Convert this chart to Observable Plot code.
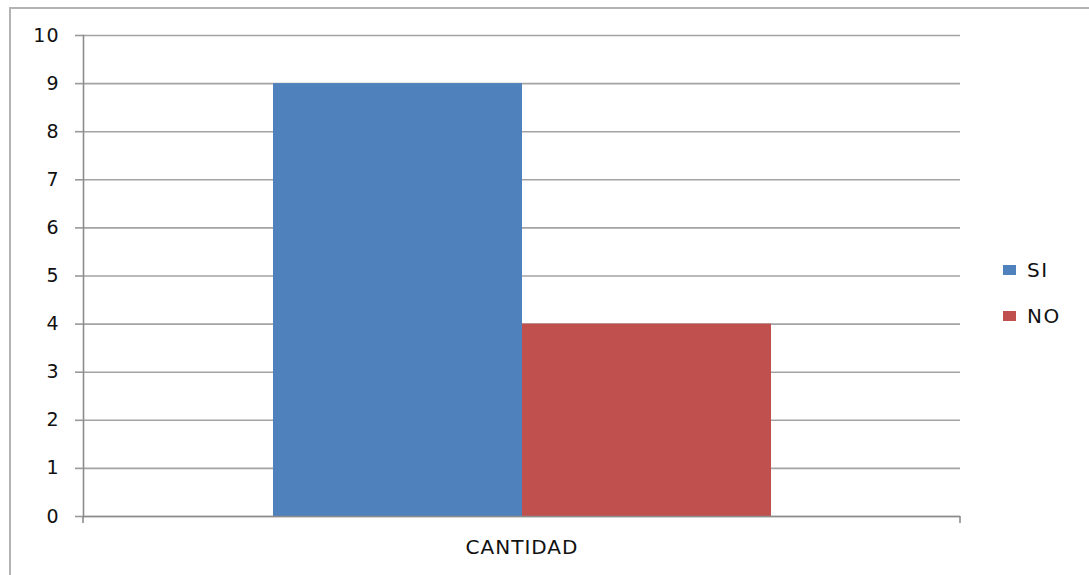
<!DOCTYPE html>
<html>
<head>
<meta charset="utf-8">
<script src="https://cdn.jsdelivr.net/npm/d3@7"></script>
<script src="https://cdn.jsdelivr.net/npm/@observablehq/plot@0.6"></script>
<style>
  html, body { margin: 0; padding: 0; background: #fff; }
  #wrap { position: relative; width: 1089px; height: 575px; overflow: hidden; font-family: "DejaVu Sans", Verdana, sans-serif; }
  #border { position: absolute; left: 9px; top: 7px; width: 1200px; height: 700px; border-top: 2px solid #b3b3b3; border-left: 2px solid #b3b3b3; box-sizing: border-box; }
  #legend { position: absolute; left: 1003px; top: 257px; font-size: 20px; color: #111; }
  .li { display: flex; align-items: center; height: 26px; margin-bottom: 20px; letter-spacing: 1.5px; }
  .sw { width: 13px; height: 10px; margin-right: 11px; }
  svg { position: absolute; left: 0; top: 0; }
</style>
</head>
<body>
<div id="wrap">
  <div id="border"></div>
  <div id="legend"></div>
</div>
<script>
const categories = ["CANTIDAD"];
const series = ["SI", "NO"];
const values = [9, 4];
const colors = ["#4F81BD", "#C0504D"];
const yTicks = [0, 1, 2, 3, 4, 5, 6, 7, 8, 9, 10];

const data = series.map((s, i) => ({category: categories[0], series: s, value: values[i]}));

const W = 1089, H = 575, mL = 83, mR = 129, mT = 35, mB = 59;

const plot = Plot.plot({
  width: W, height: H,
  marginLeft: mL, marginRight: mR, marginTop: mT, marginBottom: mB,
  style: {fontFamily: "DejaVu Sans, Verdana, sans-serif", fontSize: "19px", color: "#111", background: "transparent", letterSpacing: "1px"},
  fx: {domain: categories, padding: 0, label: null},
  x: {domain: series, paddingInner: 0, paddingOuter: 0.76, axis: null},
  y: {domain: [0, 10], label: null},
  color: {domain: series, range: colors},
  marks: [
    Plot.gridY(yTicks, {stroke: "#a3a3a3", strokeOpacity: 1, strokeWidth: 1.6}),
    Plot.barY(data, {fx: "category", x: "series", y: "value", fill: "series"}),
    Plot.ruleY([0], {stroke: "#8c8c8c", strokeWidth: 1.6}),
    Plot.frame({anchor: "left", stroke: "#8c8c8c", strokeWidth: 1.6}),
    Plot.axisY(yTicks, {tickSize: 8, tickPadding: 16, stroke: "#999", strokeWidth: 1.6, label: null, fontSize: 19}),
    Plot.axisFx({anchor: "bottom", tickSize: 0, tickPadding: 23, label: null, fontSize: 20})
  ]
});

document.getElementById("wrap").appendChild(plot);

// end ticks of the category axis
const svg = d3.select(plot);
const y0 = H - mB;
[mL, W - mR].forEach(xp => {
  svg.append("line").attr("x1", xp).attr("x2", xp).attr("y1", y0).attr("y2", y0 + 7)
    .attr("stroke", "#8c8c8c").attr("stroke-width", 1.6);
});

// legend
const leg = d3.select("#legend");
series.forEach((s, i) => {
  const row = leg.append("div").attr("class", "li");
  row.append("div").attr("class", "sw").style("background", colors[i]);
  row.append("span").text(s);
});
</script>
</body>
</html>
